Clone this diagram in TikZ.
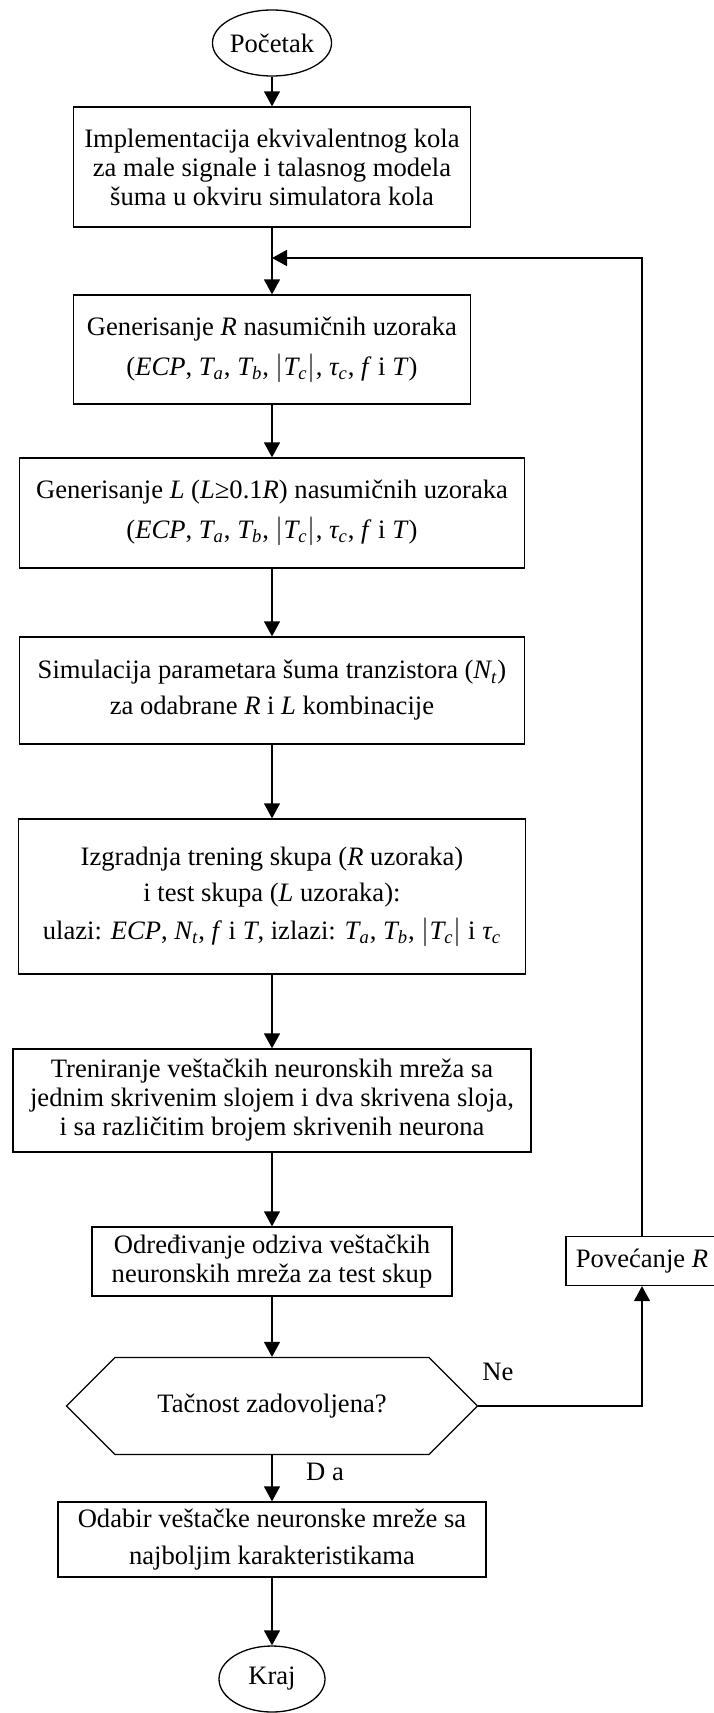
\documentclass[tikz,border=0pt]{standalone}
\usepackage{amsmath}
\usepackage{fontspec}
\setmainfont{Liberation Serif}
\usetikzlibrary{arrows.meta,shapes.geometric,shapes.misc}

\newcommand{\mv}[1]{\textit{#1}}
\newcommand{\sv}[2]{$\textit{#1}_{\textit{#2}}$}
\newcommand{\absTc}{$\left|\textit{T}_{\textit{c}}\right|$}

\tikzset{
  box/.style={draw, line width=0.65pt, align=center, inner sep=0pt},
  term/.style={ellipse, draw, line width=0.65pt, inner sep=0pt, minimum width=53pt, minimum height=33pt},
  flow/.style={-{Triangle[length=7.5pt,width=8pt]}, line width=0.65pt},
}

\begin{document}
\begin{tikzpicture}[x=0.5pt, y=-0.5pt, font=\fontsize{13.3}{14.5}\selectfont]
    \useasboundingbox (0,0) rectangle (713,1713);

    % Main chain
    \node[term] (start) at (272,43) {Početak};
    \node[box, minimum width=198.5pt, minimum height=60pt] (impl) at (272,167)
        {Implementacija ekvivalentnog kola\\za male signale i talasnog modela\\šuma u okviru simulatora kola};
    \node[box, minimum width=198.5pt, minimum height=54.5pt] (genR) at (272,349.5)
        {Generisanje \mv{R} nasumičnih uzoraka\\[5.5pt](\mv{ECP}, \sv{T}{a}, \sv{T}{b}, \absTc, \sv{τ}{c}, \mv{f} i \mv{T})};
    \node[box, minimum width=252.5pt, minimum height=55pt] (genL) at (272,513)
        {Generisanje \mv{L} (\mv{L}≥0.1\mv{R}) nasumičnih uzoraka\\[5.5pt](\mv{ECP}, \sv{T}{a}, \sv{T}{b}, \absTc, \sv{τ}{c}, \mv{f} i \mv{T})};
    \node[box, minimum width=252.5pt, minimum height=53.5pt] (sim) at (272,690.5)
        {Simulacija parametara šuma tranzistora (\sv{N}{t})\\[3.5pt]za odabrane \mv{R} i \mv{L} kombinacije};
    \node[box, minimum width=253.5pt, minimum height=77.5pt] (build) at (272,896.5)
        {Izgradnja trening skupa (\mv{R} uzoraka)\\[3.5pt]i test skupa (\mv{L} uzoraka):\\[4.5pt]ulazi: \mv{ECP}, \sv{N}{t}, \mv{f} i \mv{T}, izlazi: \sv{T}{a}, \sv{T}{b}, \absTc{} i \sv{τ}{c}};
    \node[box, minimum width=259pt, minimum height=51.5pt] (train) at (272,1100.5)
        {Treniranje veštačkih neuronskih mreža sa\\jednim skrivenim slojem i dva skrivena sloja,\\i sa različitim brojem skrivenih neurona};
    \node[box, minimum width=180pt, minimum height=34.5pt] (resp) at (272,1261.5)
        {Određivanje odziva veštačkih\\neuronskih mreža za test skup};
    \node[box, chamfered rectangle, chamfered rectangle xsep=29.5pt, chamfered rectangle ysep=18.2pt,
        minimum width=205.5pt, minimum height=36.5pt] (check) at (272,1406) {Tačnost zadovoljena?};
    \node[box, minimum width=214pt, minimum height=37.5pt] (pick) at (272,1539.5)
        {Odabir veštačke neuronske mreže sa\\[4pt]najboljim karakteristikama};
    \node[term] (stop) at (272,1679) {Kraj};

    % Loop
    \node[box, minimum width=76pt, minimum height=24.5pt] (inc) at (642,1261) {Povećanje \mv{R}};
    \coordinate (join) at (272,258);

    \draw[flow] (start) -- (impl);
    \draw[flow] (impl) -- (genR);
    \draw[flow] (genR) -- (genL);
    \draw[flow] (genL) -- (sim);
    \draw[flow] (sim) -- (build);
    \draw[flow] (build) -- (train);
    \draw[flow] (train) -- (resp);
    \draw[flow] (resp.south) -- (check.north);
    \draw[flow] (check.south) -- (pick.north);
    \draw[flow] (pick) -- (stop);
    \draw[flow] (check.east) -- (check.east -| inc.south) -- (inc.south);
    \draw[flow] (inc.north) |- (join);

    \node (no) at (498,1372) {Ne};
    \node (yes) at (325,1472) {D a};
\end{tikzpicture}
\end{document}
